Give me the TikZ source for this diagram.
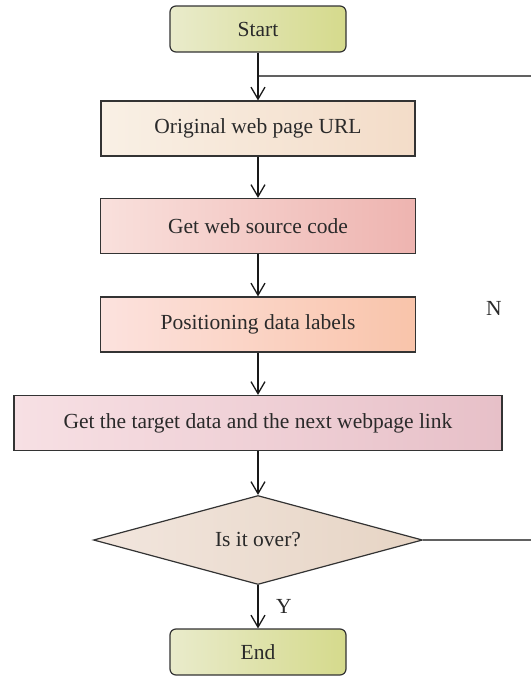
\documentclass[tikz,border=0pt]{standalone}
\usepackage{fontspec}
\setmainfont{Liberation Serif}
\usetikzlibrary{arrows.meta,shapes.geometric}
\definecolor{txt}{HTML}{2A2A2A}
\definecolor{bord}{HTML}{333333}
\tikzset{
  box/.style={draw=bord,line width=1.2pt,minimum height=55pt,inner sep=0pt,text=txt,font=\fontsize{21.5}{24}\selectfont},
  term/.style={box,rounded corners=6pt,minimum width=176pt,minimum height=46pt,left color=yellowL,right color=yellowR},
  flow/.style={line width=1.6pt,draw=black!90,-{Straight Barb[length=12pt,width=14pt,line width=1.3pt]}},
  back/.style={line width=1.4pt,draw=black!62},
  lbl/.style={text=txt,font=\fontsize{21.5}{24}\selectfont}
}
\definecolor{yellowL}{HTML}{E9EBCB}
\definecolor{yellowR}{HTML}{D5DA8C}
\begin{document}
\begin{tikzpicture}[x=1pt,y=1pt]
\useasboundingbox (0,0) rectangle (531,-678);
\node[term] (start) at (258,-29) {Start};
\node[box,minimum width=314pt,left color={rgb,255:red,249;green,240;blue,229},right color={rgb,255:red,243;green,220;blue,200}] (orig) at (258,-128.5) {Original web page URL};
\node[box,minimum width=315pt,left color={rgb,255:red,249;green,224;blue,220},right color={rgb,255:red,238;green,180;blue,176}] (src) at (258,-226) {Get web source code};
\node[box,minimum width=315pt,left color={rgb,255:red,252;green,226;blue,222},right color={rgb,255:red,249;green,196;blue,170}] (pos) at (258,-324.5) {Positioning data labels};
\node[box,minimum width=488pt,left color={rgb,255:red,247;green,224;blue,228},right color={rgb,255:red,231;green,192;blue,200}] (tgt) at (258,-423) {Get the target data and the next webpage link};
\node[diamond,draw=bord,line width=1.2pt,minimum width=329pt,minimum height=89pt,inner sep=0pt,aspect=3.7,text=txt,font=\fontsize{21.5}{24}\selectfont,left color={rgb,255:red,242;green,230;blue,222},right color={rgb,255:red,230;green,212;blue,196}] (dec) at (258,-540) {Is it over?};
\node[term] (end) at (258,-652) {End};
\coordinate (split) at (258,-76);
\coordinate (r1) at (531,-76);
\coordinate (r2) at (531,-540);
\draw[back] (split) -- (r1);
\draw[back] (dec.east) -- (r2);
\draw[flow] (start) -- (orig);
\draw[flow] (orig) -- (src);
\draw[flow] (src) -- (pos);
\draw[flow] (pos) -- (tgt);
\draw[flow] (tgt) -- (dec);
\draw[flow] (dec) -- (end);
\node[lbl] (nlab) at (494,-308) {N};
\node[lbl] (ylab) at (284,-606) {Y};
\end{tikzpicture}
\end{document}
